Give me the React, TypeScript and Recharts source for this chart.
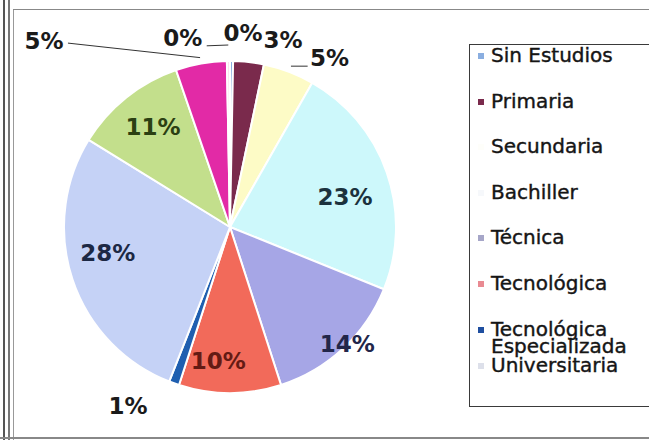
import React from "react";
import { Cell, Legend, Pie, PieChart } from "recharts";

// education level of respondents, % share (clockwise from 12 o'clock)
const LEVELS = [
  "Sin Estudios",
  "Primaria",
  "Secundaria",
  "Bachiller",
  "Técnica",
  "Tecnológica",
  "Tecnológica Especializada",
  "Universitaria",
  "Especialización",
  "Maestría",
  "Doctorado",
];
const SHARES = [0.3, 3, 5, 23, 14, 10, 1, 28, 11, 5, 0.3];
// the legend box in the source is cut off after the eighth entry
const LEGEND_SHOWN = 8;

const SLICE_COLORS = [
  "#8aaee0",
  "#7a2a4c",
  "#fdfbc6",
  "#cdf8fb",
  "#a6a6e6",
  "#f26a5a",
  "#1f5fb0",
  "#c5d2f6",
  "#c3df8c",
  "#e22aa6",
  "#fbe2ec",
];
const MARKER_COLORS = [
  "#8aaee0",
  "#7a2a4c",
  "#fefefa",
  "#f6f8fb",
  "#a6a6c8",
  "#e98a92",
  "#1f4fa0",
  "#dde0ea",
];
const LABEL_COLORS = [
  "#1a1a1a",
  "#1a1a1a",
  "#1a1a1a",
  "#1b323d",
  "#22264a",
  "#641a14",
  "#1a1a1a",
  "#1c2844",
  "#2b4012",
  "#1a1a1a",
  "#1a1a1a",
];

// label placement: distance from centre (px) and angular nudge (deg, clockwise)
const LABEL_PLACE = [
  { r: 194, da: 3.3 },
  { r: 194, da: 9.4 },
  { r: 196, da: 9.8 },
  { r: 119, da: 4.5 },
  { r: 166, da: -2 },
  { r: 135, da: 5 },
  { r: 206, da: 10 },
  { r: 125, da: 6.4 },
  { r: 126, da: 1 },
  { r: 263, da: -35 },
  { r: 195, da: -13.5 },
];

const CX = 230;
const CY = 227;
const R = 166;

const data = LEVELS.map((name, i) => ({ name, value: SHARES[i] }));

const polar = (theta: number, r: number) => {
  const t = (theta * Math.PI) / 180;
  return { x: CX + r * Math.sin(t), y: CY - r * Math.cos(t) };
};

function renderLabel(props: any) {
  const { midAngle, percent, index } = props;
  const theta = 90 - midAngle; // clockwise from top
  const place = LABEL_PLACE[index];
  const p = polar(theta + place.da, place.r);
  const text = `${Math.round(percent * 100)}%`;
  let leader: React.ReactNode = null;
  if (index === 9) {
    const e = polar(theta, R + 6);
    leader = <line x1={p.x + 24} y1={p.y + 2} x2={e.x} y2={e.y} stroke="#333" strokeWidth={1} />;
  } else if (index === 10) {
    const e = polar(theta, R + 16);
    leader = <line x1={p.x + 24} y1={p.y + 8} x2={e.x} y2={e.y} stroke="#333" strokeWidth={1} />;
  } else if (index === 2) {
    const e = polar(theta, R + 6);
    leader = <line x1={e.x} y1={e.y} x2={p.x - 22} y2={e.y} stroke="#333" strokeWidth={1} />;
  }
  return (
    <g key={`lbl-${index}`}>
      {leader}
      <text
        x={p.x}
        y={p.y}
        textAnchor="middle"
        dominantBaseline="central"
        fill={LABEL_COLORS[index]}
        fontFamily="DejaVu Sans"
        fontWeight="bold"
        fontSize={23}
      >
        {text}
      </text>
    </g>
  );
}

function LegendBox() {
  return (
    <div
      style={{
        boxSizing: "border-box",
        width: 200,
        height: 363,
        border: "1.5px solid #3a3a3a",
        background: "#fff",
        padding: "2px 0 0 8px",
        fontFamily: "DejaVu Sans",
        fontSize: 20,
        color: "#151515",
        WebkitTextStroke: "0.4px #151515",
      }}
    >
      {LEVELS.slice(0, LEGEND_SHOWN).map((name, i) => (
        <div
          key={name}
          style={{
            display: "flex",
            alignItems: "flex-start",
            lineHeight: "17px",
            marginBottom: i === 6 ? 2 : 28.6,
          }}
        >
          <span
            style={{
              width: 6,
              height: 6,
              marginTop: 6,
              marginRight: 7,
              flex: "none",
              background: MARKER_COLORS[i],
            }}
          />
          <span style={{ width: 170 }}>{name}</span>
        </div>
      ))}
    </div>
  );
}

export default function App() {
  return (
    <div
      style={{
        position: "absolute",
        left: 0,
        top: 0,
        width: 649,
        height: 440,
        overflow: "hidden",
        background: "#fff",
      }}
    >
      {/* scanned frame lines */}
      <div style={{ position: "absolute", left: 3, top: 0, width: 2, height: 440, background: "#555" }} />
      <div style={{ position: "absolute", left: 8, top: 0, width: 2, height: 440, background: "#777" }} />
      <div style={{ position: "absolute", left: 13, top: 9, width: 1, height: 431, background: "#999" }} />
      <div style={{ position: "absolute", left: 13, top: 9, width: 636, height: 1, background: "#888" }} />
      <div style={{ position: "absolute", left: 0, top: 437, width: 649, height: 2, background: "#888" }} />

      <PieChart
        width={649}
        height={440}
        margin={{ top: 0, right: 0, bottom: 0, left: 0 }}
        style={{ position: "absolute", left: 0, top: 0 }}
      >
        <Pie
          data={data}
          dataKey="value"
          nameKey="name"
          cx={CX}
          cy={CY}
          outerRadius={R}
          startAngle={90}
          endAngle={-270}
          stroke="#fff"
          strokeWidth={2}
          label={renderLabel}
          labelLine={false}
          isAnimationActive={false}
        >
          {data.map((_, i) => (
            <Cell key={i} fill={SLICE_COLORS[i]} />
          ))}
        </Pie>
        <Legend
          content={() => <LegendBox />}
          wrapperStyle={{ position: "absolute", left: 469, top: 44, width: 200, height: 363 }}
        />
      </PieChart>
    </div>
  );
}
